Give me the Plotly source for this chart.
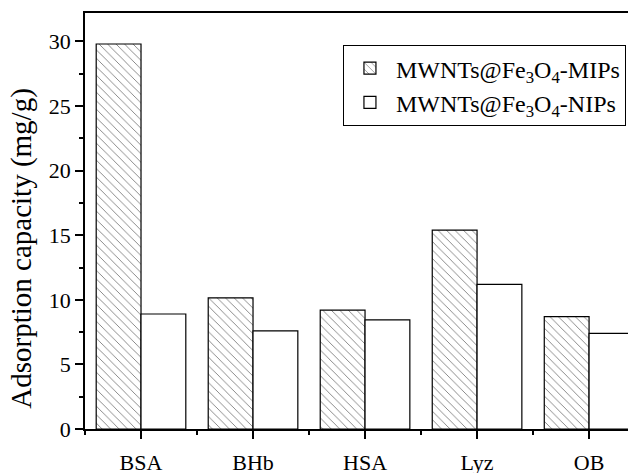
import plotly.graph_objects as go

categories = ["BSA", "BHb", "HSA", "Lyz", "OB"]
mips = [29.8, 10.15, 9.2, 15.4, 8.7]
nips = [8.9, 7.6, 8.45, 11.2, 7.4]
series_names = ["MWNTs@Fe<sub>3</sub>O<sub>4</sub>-MIPs", "MWNTs@Fe<sub>3</sub>O<sub>4</sub>-NIPs"]
y_ticks = [0, 5, 10, 15, 20, 25, 30]
y_title = "Adsorption capacity (mg/g)"

xpos = list(range(len(categories)))
font = "Liberation Serif, Times New Roman, serif"

fig = go.Figure()
fig.add_trace(go.Bar(
    x=xpos, y=mips, name=series_names[0],
    marker=dict(color="white", line=dict(color="black", width=1.2),
                pattern=dict(shape="\\", size=6, solidity=0.15, fgcolor="black", bgcolor="white")),
))
fig.add_trace(go.Bar(
    x=xpos, y=nips, name=series_names[1],
    marker=dict(color="white", line=dict(color="black", width=1.2)),
))

fig.update_layout(
    width=636, height=473,
    margin=dict(l=77, r=9, t=5, b=52),
    paper_bgcolor="white", plot_bgcolor="white",
    barmode="group", bargap=0.2, bargroupgap=0,
    font=dict(family=font, size=22, color="black"),
    legend=dict(x=0.469, y=0.923, xanchor="left", yanchor="top",
                bordercolor="black", borderwidth=1, bgcolor="white",
                font=dict(size=24, family=font), tracegroupgap=0, itemwidth=42),
    showlegend=True,
    annotations=[dict(text=y_title, textangle=-90, xref="paper", yref="paper",
                      x=-0.117, y=0.435, xanchor="center", yanchor="middle",
                      showarrow=False, font=dict(size=29, family=font))],
)
fig.update_xaxes(
    range=[-0.5, 4.41], tickmode="array", tickvals=xpos, ticktext=categories,
    showline=True, linecolor="black", linewidth=1.5, mirror=True,
    ticks="outside", ticklen=8, tickwidth=1.5, tickcolor="black",
    minor=dict(tickmode="array", tickvals=[-0.5, 0.5, 1.5, 2.5, 3.5], ticks="outside",
               ticklen=4, tickwidth=1.5, tickcolor="black"),
    showgrid=False, zeroline=False, tickfont=dict(size=22),
    ticklabelstandoff=5, automargin=False,
)
fig.update_yaxes(
    range=[0, 32.2], tickmode="array", tickvals=y_ticks,
    showline=True, linecolor="black", linewidth=1.5,
    ticks="outside", ticklen=8, tickwidth=1.5, tickcolor="black",
    minor=dict(tickmode="array", tickvals=[2.5, 7.5, 12.5, 17.5, 22.5, 27.5], ticks="outside",
               ticklen=4, tickwidth=1.5, tickcolor="black"),
    showgrid=False, zeroline=False, tickfont=dict(size=22),
    automargin=False,
)

fig.write_html("out.html")
